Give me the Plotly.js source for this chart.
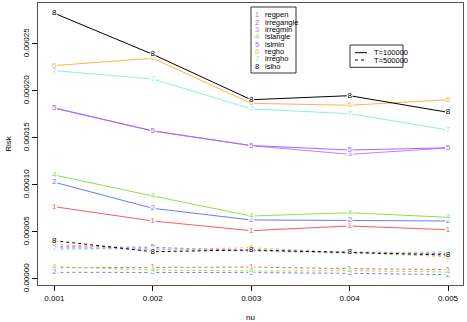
<!DOCTYPE html>
<html>
<head>
<meta charset="utf-8">
<script src="https://cdn.plot.ly/plotly-3.0.1.min.js"></script>
<style>
  html, body { margin: 0; padding: 0; background: #fff; }
  #chart { width: 467px; height: 322px; }
</style>
</head>
<body>
<div id="chart"></div>
<script>
// x values (nu)
const nu = [0.001, 0.002, 0.003, 0.004, 0.005];
const methods = ['regpen', 'irregangle', 'irregmin', 'islangle', 'islmin', 'regho', 'irregho', 'islho'];
const colors = ['#FF5A5A', '#6B7BFF', '#C77DFF', '#8BE24A', '#9A6BFF', '#FFB347', '#88F5D8', '#000000'];

// Risk, T=100000 (solid)
const riskT1 = [
  [7.69e-5, 6.17e-5, 5.14e-5, 5.64e-5, 5.24e-5],      // 1 regpen
  [1.029e-4, 7.52e-5, 6.28e-5, 6.24e-5, 6.17e-5],     // 2 irregangle
  [1.816e-4, 1.574e-4, 1.418e-4, 1.326e-4, 1.394e-4], // 3 irregmin
  [1.106e-4, 8.83e-5, 6.7e-5, 7.05e-5, 6.56e-5],      // 4 islangle
  [1.82e-4, 1.576e-4, 1.42e-4, 1.372e-4, 1.396e-4],   // 5 islmin
  [2.27e-4, 2.348e-4, 1.869e-4, 1.848e-4, 1.907e-4],  // 6 regho
  [2.216e-4, 2.128e-4, 1.809e-4, 1.759e-4, 1.585e-4], // 7 irregho
  [2.827e-4, 2.39e-4, 1.907e-4, 1.95e-4, 1.773e-4]    // 8 islho
];

// Risk, T=500000 (dashed)
const riskT5 = [
  [1.2e-5, 1.25e-5, 1.26e-5, 1.1e-5, 1.0e-5],
  [0.71e-5, 0.7e-5, 0.68e-5, 0.6e-5, 0.46e-5],
  [3.3e-5, 3.2e-5, 3.0e-5, 2.9e-5, 2.75e-5],
  [1.31e-5, 0.96e-5, 0.85e-5, 0.88e-5, 0.74e-5],
  [3.44e-5, 3.37e-5, 3.0e-5, 2.8e-5, 2.7e-5],
  [3.69e-5, 3.1e-5, 3.33e-5, 2.8e-5, 2.37e-5],
  [3.16e-5, 3.2e-5, 2.95e-5, 2.7e-5, 2.9e-5],
  [4.07e-5, 2.9e-5, 3.09e-5, 2.84e-5, 2.55e-5]
];

const yTicks = [0, 0.00005, 0.0001, 0.00015, 0.0002, 0.00025];
const yTickText = ['0.00000', '0.00005', '0.00010', '0.00015', '0.00020', '0.00025'];
const xTickText = ['0.001', '0.002', '0.003', '0.004', '0.005'];
const lineLegend = ['T=100000', 'T=500000'];

const FONT = 'Liberation Sans, Arial, sans-serif';
const DASH = '3px,3px';

// plot area in pixels
const plotL = 38, plotR = 463, plotT = 3, plotB = 285;
const px = x => (x - plotL) / (plotR - plotL);
const py = y => (plotB - y) / (plotB - plotT);

const traces = [];
function addSet(data, dash) {
  data.forEach((ys, i) => {
    traces.push({
      x: nu, y: ys,
      type: 'scatter', mode: 'lines+markers+text',
      text: ys.map(() => String(i + 1)),
      textposition: 'middle center',
      textfont: { family: FONT, size: 8, color: colors[i] },
      marker: { color: 'rgba(255,255,255,0.9)', size: 6, line: { width: 0 } },
      line: { color: colors[i], width: 1, dash: dash },
      showlegend: false, hoverinfo: 'skip', cliponaxis: false
    });
  });
}
addSet(riskT1, 'solid');
addSet(riskT5, DASH);

const shapes = [
  // legend boxes
  { type: 'rect', xref: 'paper', yref: 'paper', x0: px(251), x1: px(296), y0: py(73), y1: py(7),
    line: { color: '#333', width: 1 }, fillcolor: 'white' },
  { type: 'rect', xref: 'paper', yref: 'paper', x0: px(350), x1: px(403), y0: py(67.3), y1: py(45),
    line: { color: '#333', width: 1 }, fillcolor: 'white' }
];
const annotations = [];
methods.forEach((m, i) => {
  const yy = 15 + i * 7.33;
  annotations.push({ xref: 'paper', yref: 'paper', x: px(256.5), y: py(yy), text: String(i + 1),
    showarrow: false, xanchor: 'center', yanchor: 'middle',
    font: { family: FONT, size: 7.5, color: colors[i] } });
  annotations.push({ xref: 'paper', yref: 'paper', x: px(263), y: py(yy), text: m,
    showarrow: false, xanchor: 'left', yanchor: 'middle',
    font: { family: FONT, size: 7.5, color: '#000' } });
});
lineLegend.forEach((lab, i) => {
  const yy = 52.7 + i * 7.3;
  shapes.push({ type: 'line', xref: 'paper', yref: 'paper', x0: px(355), x1: px(367), y0: py(yy), y1: py(yy),
    line: { color: '#000', width: 1, dash: i === 0 ? 'solid' : DASH } });
  annotations.push({ xref: 'paper', yref: 'paper', x: px(372), y: py(yy), text: lab,
    showarrow: false, xanchor: 'left', yanchor: 'middle',
    font: { family: FONT, size: 7.5, color: '#000' } });
});

const layout = {
  width: 467, height: 322,
  margin: { l: plotL, r: 467 - plotR, t: plotT, b: 322 - plotB },
  paper_bgcolor: 'white', plot_bgcolor: 'white',
  font: { family: FONT, size: 8, color: '#000' },
  xaxis: {
    range: [0.000834, 0.005152],
    tickvals: nu, ticktext: xTickText,
    ticks: 'outside', ticklen: 5, tickcolor: '#000',
    showgrid: false, zeroline: false,
    showline: true, mirror: true, linecolor: '#555', linewidth: 1,
    title: { text: 'nu', font: { family: FONT, size: 8 }, standoff: 12 }
  },
  yaxis: {
    range: [-6.4e-6, 2.936e-4],
    tickvals: yTicks, ticktext: yTickText, tickangle: -90,
    ticks: 'outside', ticklen: 5, tickcolor: '#000',
    showgrid: false, zeroline: false,
    showline: true, mirror: true, linecolor: '#555', linewidth: 1,
    title: { text: 'Risk', font: { family: FONT, size: 8 }, standoff: 8 }
  },
  shapes: shapes,
  annotations: annotations,
  showlegend: false
};

Plotly.newPlot('chart', traces, layout, { displayModeBar: false, staticPlot: true });
</script>
</body>
</html>
